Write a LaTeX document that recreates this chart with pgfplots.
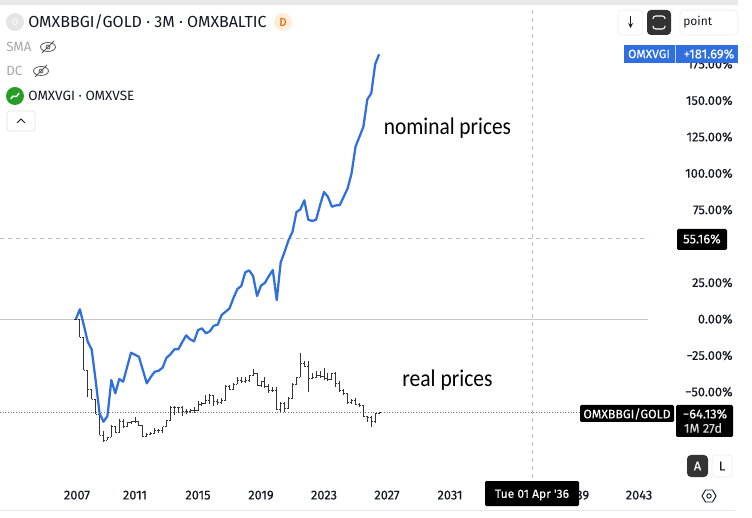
\documentclass[border=0pt]{standalone}
\usepackage{fontspec}
\setmainfont{Fira Sans}
\newfontfamily\tvf[FakeBold=0.25]{Fira Sans}
\newfontfamily\note{Carlito}
\usepackage{pgfplots}
\usepackage{pgfplotstable}
\pgfplotsset{compat=1.18}

\definecolor{tvblue}{HTML}{2F6FDE}
\definecolor{tvink}{HTML}{131722}
\definecolor{barc}{HTML}{333333}
\definecolor{dashc}{HTML}{B8BAC0}

% quarterly bars of OMXBBGI/GOLD, in percent from the start
\pgfplotstableread{
x o h l c
2007.25 0.0 0.6 -0.5 0.0
2007.50 0.0 0.0 -12.6 -12.6
2007.75 -12.6 -12.6 -35.0 -35.0
2008.00 -35.0 -35.0 -53.3 -48.3
2008.25 -48.3 -48.3 -55.1 -55.1
2008.50 -55.1 -55.1 -65.2 -65.2
2008.75 -65.2 -62.5 -79.6 -79.6
2009.00 -79.6 -76.9 -84.2 -83.1
2009.25 -83.1 -81.2 -83.1 -81.2
2009.50 -81.2 -72.8 -81.2 -73.4
2009.75 -73.4 -73.4 -78.5 -77.8
2010.00 -77.8 -68.9 -78.5 -70.5
2010.25 -70.5 -68.9 -74.4 -73.9
2010.50 -73.9 -70.5 -74.4 -71.2
2010.75 -71.2 -69.8 -72.1 -70.5
2011.00 -70.5 -67.5 -71.2 -70.5
2011.25 -70.5 -70.5 -73.4 -72.8
2011.50 -72.8 -72.8 -80.8 -80.3
2011.75 -80.3 -78.0 -80.3 -78.9
2012.00 -78.9 -77.3 -79.6 -78.5
2012.25 -78.5 -75.0 -78.5 -76.6
2012.50 -76.6 -75.7 -78.0 -76.6
2012.75 -76.6 -73.9 -78.0 -73.9
2013.00 -73.9 -69.3 -74.4 -69.8
2013.25 -69.8 -59.5 -69.8 -60.6
2013.50 -60.6 -59.7 -65.9 -60.6
2013.75 -60.6 -60.2 -64.8 -60.6
2014.00 -60.6 -59.7 -66.6 -63.6
2014.25 -63.6 -62.0 -65.2 -63.6
2014.50 -63.6 -62.0 -64.8 -62.9
2014.75 -62.9 -60.6 -64.3 -62.5
2015.00 -62.5 -56.1 -62.9 -58.3
2015.25 -58.3 -56.7 -59.7 -57.9
2015.50 -57.9 -52.2 -57.9 -55.6
2015.75 -55.6 -51.7 -58.3 -52.2
2016.00 -52.2 -52.2 -59.7 -56.7
2016.25 -56.7 -55.1 -59.0 -57.4
2016.50 -57.4 -54.5 -58.3 -55.6
2016.75 -55.6 -45.3 -55.6 -46.0
2017.00 -46.0 -45.3 -48.7 -48.3
2017.25 -48.3 -44.2 -48.7 -44.6
2017.50 -44.6 -40.0 -44.6 -41.9
2017.75 -41.9 -40.0 -44.2 -43.0
2018.00 -43.0 -40.0 -43.7 -42.3
2018.25 -42.3 -38.4 -43.0 -38.9
2018.50 -38.9 -34.3 -39.1 -37.3
2018.75 -37.3 -36.8 -46.0 -45.3
2019.00 -45.3 -42.3 -46.9 -43.0
2019.25 -43.0 -40.0 -47.6 -46.0
2019.50 -46.0 -44.6 -50.6 -48.7
2019.75 -48.7 -46.9 -49.9 -48.7
2020.00 -48.7 -46.9 -62.5 -61.8
2020.25 -61.8 -56.7 -63.6 -57.9
2020.50 -57.9 -56.7 -63.6 -61.3
2020.75 -61.3 -53.8 -61.3 -54.5
2021.00 -54.5 -43.7 -54.5 -44.6
2021.25 -44.6 -39.6 -45.3 -40.0
2021.50 -40.0 -23.6 -40.0 -30.4
2021.75 -30.4 -28.6 -32.7 -32.3
2022.00 -32.3 -28.6 -50.3 -40.7
2022.25 -40.7 -37.3 -41.4 -40.0
2022.50 -40.0 -35.5 -40.7 -38.4
2022.75 -38.4 -35.7 -40.7 -39.6
2023.00 -39.6 -33.9 -41.9 -40.7
2023.25 -40.7 -37.3 -42.3 -41.4
2023.50 -41.4 -36.8 -41.9 -37.3
2023.75 -37.3 -36.6 -46.9 -44.2
2024.00 -44.2 -42.3 -49.9 -48.7
2024.25 -48.7 -48.3 -52.2 -51.0
2024.50 -51.0 -50.6 -57.9 -57.4
2024.75 -57.4 -55.1 -58.3 -56.1
2025.00 -56.1 -54.5 -59.0 -58.3
2025.25 -58.3 -57.4 -60.2 -59.0
2025.50 -59.0 -59.0 -67.0 -66.6
2025.75 -66.6 -66.6 -70.5 -67.5
2026.00 -67.5 -66.6 -74.4 -70.5
2026.25 -70.5 -64.3 -71.2 -64.7
2026.50 -64.7 -64.1 -65.4 -64.13
}\realbars

% OMXVGI, percent from the start
\pgfplotstableread{
x y
2007.25 0.0
2007.50 6.7
2007.75 -4.1
2008.00 -15.6
2008.25 -20.8
2008.50 -41.9
2008.75 -64.7
2009.00 -70.5
2009.25 -66.6
2009.50 -41.9
2009.75 -51.0
2010.00 -41.2
2010.25 -43.0
2010.50 -32.9
2010.75 -23.1
2011.00 -24.5
2011.25 -25.9
2011.50 -35.0
2011.75 -44.1
2012.00 -39.8
2012.25 -36.2
2012.50 -35.5
2012.75 -33.4
2013.00 -26.6
2013.25 -24.2
2013.50 -20.8
2013.75 -20.8
2014.00 -15.8
2014.25 -11.2
2014.50 -13.9
2014.75 -15.3
2015.00 -7.6
2015.25 -6.4
2015.50 -9.8
2015.75 -8.4
2016.00 -4.6
2016.25 -3.9
2016.50 2.8
2016.75 5.0
2017.00 7.3
2017.25 14.4
2017.50 20.6
2017.75 22.7
2018.00 32.1
2018.25 33.4
2018.50 29.5
2018.75 15.8
2019.00 22.9
2019.25 24.9
2019.50 29.5
2019.75 33.6
2020.00 13.0
2020.25 38.9
2020.50 46.2
2020.75 54.2
2021.00 59.9
2021.25 73.4
2021.50 75.3
2021.75 81.5
2022.00 68.2
2022.25 67.3
2022.50 68.2
2022.75 78.2
2023.00 87.2
2023.25 83.9
2023.50 77.1
2023.75 78.0
2024.00 78.2
2024.25 83.9
2024.50 89.7
2024.75 100.0
2025.00 118.3
2025.25 125.1
2025.50 132.0
2025.75 150.8
2026.00 154.9
2026.25 175.0
2026.50 181.69
}\nominal

\newcommand{\eye}[2]{%
  \draw[gray!70!black,line width=.6pt] (#1,#2) ellipse (7.5 and 4.5);
  \draw[gray!70!black,line width=.6pt] (#1,#2) circle (2);
  \draw[gray!70!black,line width=.6pt] (#1-6,#2+6) -- (#1+6,#2-6);}

\begin{document}
\begin{tikzpicture}
\useasboundingbox (0,0) rectangle (564pt,387.75pt);
\begin{axis}[
  at={(0,29.25pt)}, anchor=south west,
  scale only axis, width=486pt, height=352.5pt,
  xmin=2002.43, xmax=2043.57, ymin=-109.1, ymax=213.5,
  axis line style={draw=none}, major tick length=0pt,
  xtick={2007.32,2011,2015,2019,2023,2027,2031,2039,2043},
  xticklabels={2007,2011,2015,2019,2023,2027,2031,2039,2043},
  ytick={-50,-25,0,25,75,100,125,150,175},
  yticklabels={−50.00\%,−25.00\%,0.00\%,25.00\%,75.00\%,100.00\%,125.00\%,150.00\%,175.00\%},
  yticklabel pos=right,
  ticklabel style={font=\tvf\fontsize{9.6}{9.6}\selectfont, text=tvink},
  yticklabel style={anchor=east, xshift=67pt},
  xticklabel style={yshift=-6pt},
]
% price scale guides and crosshair
\addplot[draw=gray!45, line width=.6pt] coordinates {(2002.43,0) (2043.57,0)};
\addplot[draw=dashc, line width=.6pt, dash pattern=on 3pt off 3pt] coordinates {(2002.43,55.16) (2043.57,55.16)};
\addplot[draw=dashc, line width=.6pt, dash pattern=on 3pt off 3pt] coordinates {(2036.25,-109.1) (2036.25,213.5)};
\addplot[draw=gray!90!black, line width=.5pt, dash pattern=on .8pt off 1.2pt] coordinates {(2002.43,-64.13) (2043.57,-64.13)};
% bars: high-low, then open and close ticks
\addplot[draw=none, no markers, error bars/.cd, y dir=both, y explicit, error mark=none,
  error bar style={draw=barc, line width=.7pt}]
  table[x=x, y=c, y error plus expr=\thisrow{h}-\thisrow{c}, y error minus expr=\thisrow{c}-\thisrow{l}] {\realbars};
\addplot[draw=none, no markers, error bars/.cd, x dir=minus, x fixed=0.1, error mark=none,
  error bar style={draw=barc, line width=.7pt}]
  table[x=x, y=o] {\realbars};
\addplot[draw=none, no markers, error bars/.cd, x dir=plus, x fixed=0.1, error mark=none,
  error bar style={draw=barc, line width=.7pt}]
  table[x=x, y=c] {\realbars};
\addplot[draw=tvblue, line width=1.7pt, no markers, line join=round] table[x=x, y=y] {\nominal};
\end{axis}

% screen furniture, in reference pixels
\begin{scope}[x=.75pt, y=-.75pt, yshift=387.75pt]
\fill[gray!18] (0,0) rectangle (738,5);
\draw[gray!18, line width=.7pt] (0,510) -- (735,510);

\fill[gray!20] (15,22) circle (9);
\node[text=white, font=\fontsize{7}{7}\selectfont] at (15,22) {O};
\node[anchor=west, inner sep=0pt, text=tvink, font=\fontsize{12}{12}\selectfont] at (28,22) {OMXBBGI/GOLD · 3M · OMXBALTIC};
\fill[orange!15] (283,22) circle (9);
\node[text=orange!85!black, font=\tvf\fontsize{8.5}{8.5}\selectfont] at (283,22) {D};
\node[anchor=west, inner sep=0pt, text=gray!70, font=\fontsize{10}{10}\selectfont] at (6,47) {SMA};
\eye{48}{47}
\node[anchor=west, inner sep=0pt, text=gray!70, font=\fontsize{10}{10}\selectfont] at (6,71) {DC};
\eye{41}{71}
\fill[green!55!black!85] (15,96) circle (9);
\draw[white, line width=1.1pt] (11,99) .. controls (14,92) and (15,101) .. (19,93);
\node[anchor=west, inner sep=0pt, text=tvink, font=\fontsize{10.1}{10.1}\selectfont] at (28,96) {OMXVGI · OMXVSE};
\draw[gray!25, rounded corners=2pt, line width=.5pt] (7,111) rectangle (35,131);
\draw[tvink, line width=.7pt] (17,123) -- (21,119) -- (25,123);

\draw[gray!15, rounded corners=3pt, line width=.5pt] (618,10) rectangle (643,35);
\draw[tvink, line width=.6pt, ->, >=stealth] (630.5,16) -- (630.5,28);
\fill[black!80, rounded corners=3pt] (647,10) rectangle (671,35);
\draw[white, line width=.8pt, rounded corners=2pt] (653,19) -- (653,16) -- (665,16) -- (665,19);
\draw[white, line width=.8pt, rounded corners=2pt] (653,26) -- (653,29) -- (665,29) -- (665,26);
\draw[gray!15, rounded corners=3pt, line width=.5pt] (680,10) rectangle (738,35);
\node[anchor=west, inner sep=0pt, text=tvink, font=\fontsize{9}{9}\selectfont] at (683,22.5) {point};

\fill[tvblue] (624,45) rectangle (738,63);
\draw[white!70!tvblue, line width=.4pt] (675,45) -- (675,63);
\node[text=white, font=\tvf\fontsize{9}{9}\selectfont] at (649,54) {OMXVGI};
\node[text=white, font=\tvf\fontsize{9.7}{9.7}\selectfont] at (709,54) {+181.69\%};

\fill[black, rounded corners=1pt] (677,229) rectangle (727,250);
\node[text=white, font=\tvf\fontsize{9.6}{9.6}\selectfont] at (702,239) {55.16\%};

\fill[black, rounded corners=1pt] (580,405) rectangle (674,422);
\node[text=white, font=\tvf\fontsize{9.2}{9.2}\selectfont] at (627,414) {OMXBBGI/GOLD};
\fill[black, rounded corners=1pt] (676,405) rectangle (733,437);
\node[text=white, font=\tvf\fontsize{9.6}{9.6}\selectfont] at (705,414) {−64.13\%};
\node[text=white!85!black, font=\tvf\fontsize{9.6}{9.6}\selectfont] at (703,428) {1M 27d};

\fill[black, rounded corners=1pt] (485,481) rectangle (579,506);
\node[text=white, font=\tvf\fontsize{9}{9}\selectfont] at (532,495) {Tue 01 Apr '36};

\fill[black!80, rounded corners=3pt] (687,455) rectangle (708,477);
\node[text=white, font=\tvf\fontsize{9.6}{9.6}\selectfont] at (697.5,466) {A};
\draw[gray!15, rounded corners=3pt, line width=.5pt] (712,455) rectangle (732,477);
\node[text=tvink, font=\tvf\fontsize{9.6}{9.6}\selectfont] at (722,466) {L};
\draw[tvink, line width=.7pt] (702,496) -- (705.5,490) -- (712.5,490) -- (716,496) -- (712.5,502) -- (705.5,502) -- cycle;
\draw[tvink, line width=.7pt] (709,496) circle (2.2);

\node[text=black, inner sep=0pt, xscale=.89, font=\note\fontsize{18}{18}\selectfont] at (447.5,128) {nominal prices};
\node[text=black, inner sep=0pt, xscale=.9, font=\note\fontsize{18}{18}\selectfont] at (447.5,380) {real prices};
\end{scope}
\end{tikzpicture}
\end{document}
